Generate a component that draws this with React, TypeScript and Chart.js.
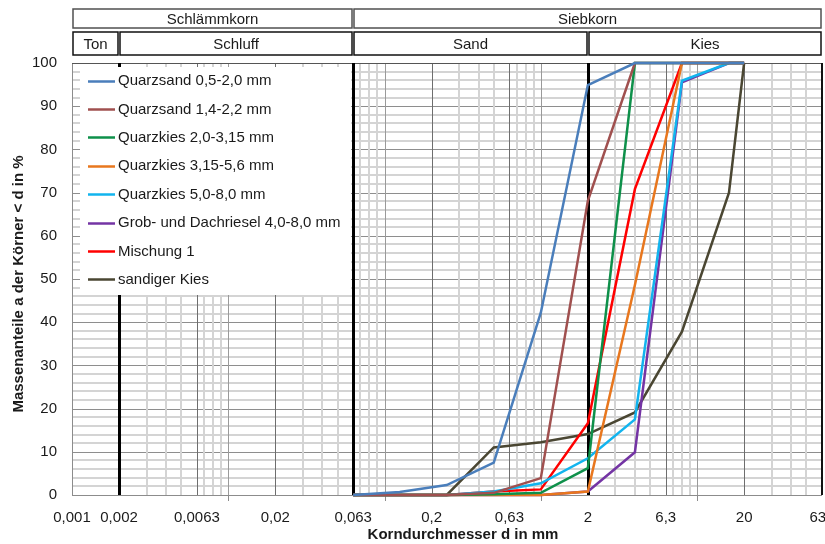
import React, { useEffect, useRef } from "react";
import { Chart, registerables } from "chart.js";

Chart.register(...registerables);

// ---- data ----
const sieveSizes = [0.063, 0.125, 0.25, 0.5, 1, 2, 4, 8, 16, 20];

const seriesNames = [
  "Quarzsand 0,5-2,0 mm",
  "Quarzsand 1,4-2,2 mm",
  "Quarzkies 2,0-3,15 mm",
  "Quarzkies 3,15-5,6 mm",
  "Quarzkies 5,0-8,0 mm",
  "Grob- und Dachriesel 4,0-8,0 mm",
  "Mischung 1",
  "sandiger Kies",
];

const quarzsand05 = [0, 0.7, 2.3, 7.5, 42.2, 94.9, 100, 100, 100, 100];
const quarzsand14 = [0, 0, 0, 0.5, 3.9, 68.1, 100, 100, 100, 100];
const quarzkies20 = [0, 0, 0, 0.2, 0.5, 6.2, 100, 100, 100, 100];
const quarzkies315 = [0, 0, 0, 0, 0, 0.8, 48.6, 100, 100, 100];
const quarzkies50 = [0, 0, 0, 0.8, 2.7, 8.5, 17.5, 95.9, 100, 100];
const grobriesel = [0, 0, 0, 0, 0, 0.8, 9.9, 95.5, 100, 100];
const mischung1 = [0, 0, 0, 0.8, 1.3, 16.6, 70.8, 100, 100, 100];
const sandigerKies = [0, 0, 0, 11, 12.2, 14.1, 19.1, 37.8, 70, 100];

const seriesValues = [
  quarzsand05,
  quarzsand14,
  quarzkies20,
  quarzkies315,
  quarzkies50,
  grobriesel,
  mischung1,
  sandigerKies,
];

const seriesColors = [
  "#4A7EBB",
  "#A0504F",
  "#0E904A",
  "#E8771E",
  "#12B4EE",
  "#7434A4",
  "#FF0000",
  "#4A4632",
];

const xTickValues = [0.001, 0.002, 0.0063, 0.02, 0.063, 0.2, 0.63, 2, 6.3, 20, 63];
const xTickLabels = ["0,001", "0,002", "0,0063", "0,02", "0,063", "0,2", "0,63", "2", "6,3", "20", "63  "];

const xAxisTitle = "Korndurchmesser d in mm";
const yAxisTitle = "Massenanteile a der Körner < d in %";

const headerTop = [
  { label: "Schlämmkorn", from: 0.001, to: 0.063 },
  { label: "Siebkorn", from: 0.063, to: 63 },
];
const headerBottom = [
  { label: "Ton", from: 0.001, to: 0.002 },
  { label: "Schluff", from: 0.002, to: 0.063 },
  { label: "Sand", from: 0.063, to: 2 },
  { label: "Kies", from: 2, to: 63 },
];

const FONT = "'Liberation Sans', Arial, sans-serif";
const TEXT = "#1a1a1a";

const sievePlugin = {
  id: "sieveDecor",
  beforeDatasetsDraw(chart: any) {
    const { ctx, chartArea: a, scales } = chart;
    const x = scales.x;
    const y = scales.y;
    ctx.save();
    ctx.fillStyle = "#fff";
    ctx.fillRect(a.left, a.top, a.right - a.left, a.bottom - a.top);

    const vline = (v: number, color: string, w: number, y0 = a.top, y1 = a.bottom) => {
      let px = x.getPixelForValue(v);
      px = w % 2 === 1 ? Math.round(px) + 0.5 : Math.round(px);
      ctx.strokeStyle = color;
      ctx.lineWidth = w;
      ctx.beginPath();
      ctx.moveTo(px, y0);
      ctx.lineTo(px, y1);
      ctx.stroke();
    };
    const hline = (v: number, color: string, w: number) => {
      let py = y.getPixelForValue(v);
      py = w % 2 === 1 ? Math.round(py) + 0.5 : Math.round(py);
      ctx.strokeStyle = color;
      ctx.lineWidth = w;
      ctx.beginPath();
      ctx.moveTo(a.left, py);
      ctx.lineTo(a.right, py);
      ctx.stroke();
    };

    for (let p = 2; p < 100; p += 2) {
      if (p % 10 !== 0) hline(p, "#d4d4d4", 2);
    }
    for (let p = 10; p < 100; p += 10) hline(p, "#8e8e8e", 1);

    const decades = [0.001, 0.01, 0.1, 1, 10];
    for (const d of decades) {
      for (const n of [3, 4, 5, 7, 8, 9]) {
        const v = n * d;
        if (v < 63) vline(v, "#d4d4d4", 2);
      }
    }
    for (const d of [0.01, 0.1, 1, 10]) vline(d, "#9a9a9a", 1);
    for (const v of [0.0063, 0.02, 0.2, 0.63, 6.3, 20]) vline(v, "#6e6e6e", 1);

    ctx.strokeStyle = "#8c8c8c";
    ctx.lineWidth = 1;
    ctx.beginPath();
    ctx.moveTo(Math.round(a.left) + 0.5, a.top);
    ctx.lineTo(Math.round(a.left) + 0.5, a.bottom);
    ctx.moveTo(a.left, Math.round(a.bottom) + 0.5);
    ctx.lineTo(a.right, Math.round(a.bottom) + 0.5);
    ctx.stroke();
    ctx.strokeStyle = "#555";
    ctx.beginPath();
    ctx.moveTo(a.left, Math.round(a.top) + 0.5);
    ctx.lineTo(a.right, Math.round(a.top) + 0.5);
    ctx.stroke();

    for (const v of [0.002, 0.063, 2]) vline(v, "#000", 3);
    vline(63, "#111", 2);

    for (const d of [0.01, 0.1, 1, 10]) vline(d, "#8c8c8c", 1, a.bottom, a.bottom + 6);

    // legend box inside the plot area
    const lx = a.left + 8;
    const ly = a.top + 4;
    ctx.fillStyle = "#fff";
    ctx.fillRect(lx, ly, 271, 228);
    ctx.font = `15px ${FONT}`;
    ctx.textBaseline = "middle";
    ctx.textAlign = "left";
    chart.data.datasets.forEach((ds: any, i: number) => {
      const cy = a.top + 17.5 + i * 28.4;
      ctx.strokeStyle = ds.borderColor;
      ctx.lineWidth = 2.5;
      ctx.beginPath();
      ctx.moveTo(a.left + 16, Math.round(cy) + 0.5);
      ctx.lineTo(a.left + 43, Math.round(cy) + 0.5);
      ctx.stroke();
      ctx.fillStyle = TEXT;
      ctx.fillText(ds.label, a.left + 46, cy + 0.5);
    });
    ctx.restore();
  },
  afterDraw(chart: any) {
    const { ctx, chartArea: a, scales } = chart;
    const x = scales.x;
    ctx.save();
    ctx.font = `15px ${FONT}`;
    ctx.textAlign = "center";
    ctx.textBaseline = "middle";
    const box = (from: number, to: number, top: number, h: number, label: string, color: string) => {
      const l = Math.round(x.getPixelForValue(from)) + 1;
      const r = Math.round(x.getPixelForValue(to)) - 1;
      ctx.fillStyle = "#fff";
      ctx.fillRect(l, top, r - l, h);
      ctx.strokeStyle = color;
      ctx.lineWidth = 1.5;
      ctx.strokeRect(l, top, r - l, h);
      ctx.fillStyle = TEXT;
      ctx.fillText(label, (l + r) / 2, top + h / 2 + 1);
    };
    const row1 = a.top - 54;
    const row2 = a.top - 31;
    headerTop.forEach((h) => box(h.from, h.to, row1, 19, h.label, "#505050"));
    headerBottom.forEach((h) => box(h.from, h.to, row2, 23, h.label, "#111"));

    // axis titles
    ctx.font = `bold 15px ${FONT}`;
    ctx.fillStyle = TEXT;
    ctx.fillText(xAxisTitle, a.left + (a.right - a.left) / 2 + 16, a.bottom + 40);
    ctx.translate(19, (a.top + a.bottom) / 2 + 5);
    ctx.rotate(-Math.PI / 2);
    ctx.fillText(yAxisTitle, 0, 0);
    ctx.restore();
  },
};

export default function App() {
  const canvasRef = useRef<HTMLCanvasElement | null>(null);

  useEffect(() => {
    const canvas = canvasRef.current;
    if (!canvas) return;
    const datasets = seriesNames.map((name, i) => ({
      label: name,
      data: sieveSizes.map((s, j) => ({ x: s, y: seriesValues[i][j] })),
      borderColor: seriesColors[i],
      backgroundColor: seriesColors[i],
      borderWidth: 2.5,
      showLine: true,
      pointRadius: 0,
      pointHoverRadius: 0,
      tension: 0,
      clip: false as any,
    }));

    const chart = new Chart(canvas, {
      type: "scatter",
      data: { datasets },
      options: {
        responsive: false,
        animation: false,
        events: [],
        layout: { padding: { top: 63, right: 3, left: 0, bottom: 0 } },
        plugins: {
          legend: { display: false },
          tooltip: { enabled: false },
          title: { display: false },
        },
        scales: {
          x: {
            type: "logarithmic",
            min: 0.001,
            max: 63,
            grid: { display: false, drawTicks: false },
            border: { display: false },
            afterBuildTicks: (scale: any) => {
              scale.ticks = xTickValues.map((v) => ({ value: v }));
            },
            afterFit: (scale: any) => {
              scale.paddingLeft = 0;
              scale.paddingRight = 0;
              scale.height = 49;
            },
            ticks: {
              autoSkip: false,
              maxRotation: 0,
              padding: 14,
              color: TEXT,
              font: { family: FONT, size: 15 },
              callback: (_v: any, i: number) => xTickLabels[i],
            },
          },
          y: {
            type: "linear",
            min: 0,
            max: 100,
            grid: { display: false, drawTicks: false },
            border: { display: false },
            afterFit: (scale: any) => {
              scale.width = 72;
              scale.paddingTop = 0;
              scale.paddingBottom = 0;
            },
            ticks: {
              stepSize: 10,
              padding: 15,
              color: TEXT,
              font: { family: FONT, size: 15 },
            },
          },
        },
      },
      plugins: [sievePlugin],
    });
    return () => chart.destroy();
  }, []);

  return (
    <div style={{ position: "fixed", left: 0, top: 0, width: 825, height: 544, background: "#fff" }}>
      <canvas ref={canvasRef} width={825} height={544} style={{ display: "block" }} />
    </div>
  );
}
